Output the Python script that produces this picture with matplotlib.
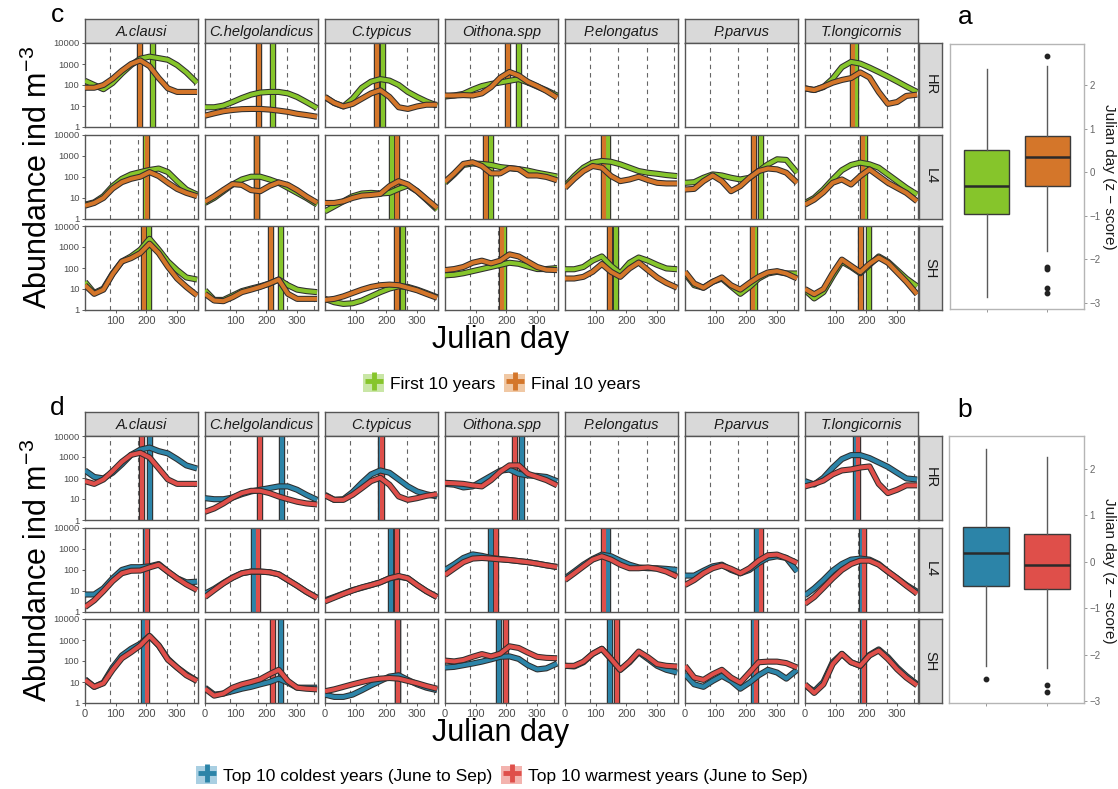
import numpy as np
import matplotlib
matplotlib.use("Agg")
import matplotlib.pyplot as plt
from matplotlib.lines import Line2D
from matplotlib.patches import Patch
from matplotlib.legend_handler import HandlerTuple

plt.rcParams['font.family'] = ['Liberation Sans', 'DejaVu Sans']
plt.rcParams['mathtext.fontset'] = 'custom'
plt.rcParams['mathtext.rm'] = 'Liberation Sans'

SPECIES = ['A.clausi', 'C.helgolandicus', 'C.typicus', 'Oithona.spp',
           'P.elongatus', 'P.parvus', 'T.longicornis']
STATIONS = ['HR', 'L4', 'SH']
DAYS = [0, 30, 60, 90, 120, 150, 180, 210, 240, 270, 300, 330, 365]
SEASONS = [80, 172, 266, 356]

# smoothed log10 abundance, one row per species (None = not sampled)
FIRST_HR = [
    [2.2, 2.0, 1.8, 2.1, 2.55, 2.95, 3.25, 3.35, 3.28, 3.2, 2.95, 2.6, 2.1],
    [0.94, 0.94, 1.02, 1.19, 1.38, 1.54, 1.64, 1.67, 1.67, 1.6, 1.43, 1.19, 0.9],
    [1.43, 1.14, 0.98, 1.35, 1.87, 2.16, 2.28, 2.21, 2.0, 1.67, 1.43, 1.22, 1.02],
    [1.45, 1.5, 1.58, 1.78, 1.95, 2.05, 2.12, 2.2, 2.28, 2.12, 1.93, 1.75, 1.5],
    None,
    None,
    [1.84, 1.76, 1.9, 2.3, 2.85, 3.1, 3.02, 2.83, 2.62, 2.4, 2.17, 1.93, 1.67],
]
FINAL_HR = [
    [1.87, 1.87, 2.0, 2.3, 2.68, 3.0, 3.17, 2.9, 2.33, 1.84, 1.67, 1.67, 1.67],
    [0.54, 0.65, 0.75, 0.81, 0.85, 0.86, 0.86, 0.83, 0.78, 0.72, 0.63, 0.57, 0.49],
    [1.43, 1.15, 0.98, 1.1, 1.35, 1.6, 1.75, 1.43, 0.94, 0.86, 0.98, 1.06, 1.06],
    [1.5, 1.5, 1.52, 1.5, 1.6, 1.9, 2.35, 2.62, 2.45, 2.15, 1.95, 1.72, 1.4],
    None,
    None,
    [1.84, 1.76, 1.92, 2.11, 2.24, 2.33, 2.6, 2.36, 1.67, 1.1, 1.19, 1.48, 1.54],
]
FIRST_L4 = [
    [0.66, 0.77, 1.06, 1.54, 1.89, 2.1, 2.21, 2.31, 2.38, 2.21, 1.78, 1.38, 1.14],
    [0.74, 0.98, 1.3, 1.62, 1.86, 1.99, 1.99, 1.86, 1.7, 1.46, 1.22, 0.98, 0.66],
    [0.34, 0.58, 0.82, 1.06, 1.19, 1.22, 1.19, 1.22, 1.41, 1.57, 1.3, 0.9, 0.42],
    [1.7, 2.1, 2.55, 2.62, 2.6, 2.55, 2.45, 2.4, 2.35, 2.28, 2.18, 2.1, 2.0],
    [1.54, 2.02, 2.42, 2.66, 2.74, 2.7, 2.58, 2.42, 2.26, 2.18, 2.13, 2.07, 2.02],
    [1.7, 1.73, 1.94, 2.1, 2.05, 1.94, 1.86, 1.94, 2.26, 2.58, 2.82, 2.79, 2.18],
    [0.74, 0.98, 1.38, 1.86, 2.3, 2.55, 2.66, 2.58, 2.42, 2.1, 1.78, 1.46, 1.14],
]
FINAL_L4 = [
    [0.61, 0.74, 0.98, 1.43, 1.73, 1.89, 1.99, 2.21, 2.02, 1.7, 1.41, 1.22, 1.06],
    [0.8, 1.06, 1.36, 1.64, 1.6, 1.35, 1.3, 1.55, 1.72, 1.6, 1.35, 1.05, 0.75],
    [0.74, 0.74, 0.82, 0.98, 1.09, 1.12, 1.17, 1.54, 1.78, 1.62, 1.3, 0.93, 0.5],
    [1.75, 2.15, 2.6, 2.68, 2.5, 2.15, 2.15, 2.4, 2.35, 2.05, 2.05, 1.98, 1.82],
    [1.46, 1.89, 2.26, 2.5, 2.42, 2.02, 1.78, 1.86, 1.99, 1.83, 1.7, 1.67, 1.67],
    [1.38, 1.41, 1.78, 2.05, 1.78, 1.3, 1.54, 1.94, 2.26, 2.38, 2.34, 2.18, 1.7],
    [0.66, 0.9, 1.25, 1.7, 1.86, 1.62, 2.02, 2.34, 2.02, 1.7, 1.46, 1.22, 0.82],
]
FIRST_SH = [
    [1.34, 0.81, 1.02, 1.74, 2.31, 2.55, 2.87, 3.39, 2.87, 2.31, 1.9, 1.55, 1.45],
    [0.94, 0.48, 0.48, 0.69, 0.9, 1.02, 1.13, 1.26, 1.45, 1.18, 0.97, 0.9, 0.85],
    [0.53, 0.37, 0.29, 0.32, 0.45, 0.65, 0.85, 1.02, 1.13, 1.1, 0.97, 0.81, 0.61],
    [1.65, 1.68, 1.75, 1.85, 1.95, 2.05, 2.15, 2.25, 2.2, 2.07, 1.95, 1.95, 2.0],
    [1.94, 1.94, 2.05, 2.35, 2.55, 2.1, 1.75, 2.25, 2.5, 2.35, 2.15, 1.98, 1.94],
    [1.74, 1.18, 1.06, 1.34, 1.5, 1.13, 0.77, 1.1, 1.5, 1.74, 1.82, 1.74, 1.74],
    [0.95, 0.55, 0.85, 1.6, 2.3, 2.05, 1.75, 2.15, 2.55, 2.3, 1.9, 1.5, 1.13],
]
FINAL_SH = [
    [1.18, 0.77, 0.97, 1.71, 2.31, 2.47, 2.71, 3.16, 2.71, 2.06, 1.5, 1.1, 0.69],
    [0.77, 0.45, 0.42, 0.61, 0.85, 0.97, 1.1, 1.26, 1.45, 0.77, 0.53, 0.53, 0.53],
    [0.48, 0.53, 0.65, 0.81, 0.97, 1.1, 1.18, 1.21, 1.18, 1.06, 0.94, 0.77, 0.58],
    [1.9, 1.95, 2.05, 2.25, 2.35, 2.22, 2.35, 2.65, 2.55, 2.3, 2.05, 1.92, 1.9],
    [1.5, 1.5, 1.58, 1.82, 2.19, 1.82, 1.58, 1.98, 2.26, 1.9, 1.55, 1.29, 1.06],
    [1.82, 1.26, 1.06, 1.34, 1.55, 1.18, 0.97, 1.29, 1.58, 1.79, 1.85, 1.74, 1.5],
    [1.0, 0.75, 1.0, 1.75, 2.4, 2.1, 1.8, 2.2, 2.5, 2.25, 1.8, 1.35, 0.75],
]

COLD_HR = [
    [2.36, 2.05, 1.98, 2.25, 2.65, 3.1, 3.35, 3.45, 3.28, 3.17, 2.9, 2.6, 2.45],
    [1.04, 0.99, 0.99, 1.07, 1.23, 1.36, 1.44, 1.52, 1.6, 1.6, 1.44, 1.2, 0.96],
    [1.2, 0.96, 0.99, 1.33, 1.77, 2.17, 2.36, 2.25, 1.93, 1.6, 1.36, 1.23, 1.12],
    [1.72, 1.68, 1.55, 1.6, 1.85, 2.1, 2.35, 2.4, 2.2, 2.12, 2.1, 2.05, 1.85],
    None,
    None,
    [1.85, 1.69, 2.01, 2.49, 2.9, 3.09, 3.09, 2.95, 2.74, 2.53, 2.25, 1.98, 1.93],
]
WARM_HR = [
    [1.85, 1.72, 1.93, 2.33, 2.77, 3.1, 3.2, 2.98, 2.46, 1.93, 1.72, 1.72, 1.72],
    [0.39, 0.55, 0.79, 1.07, 1.28, 1.39, 1.39, 1.28, 1.12, 0.99, 0.87, 0.79, 0.74],
    [1.17, 0.96, 0.96, 1.2, 1.52, 1.85, 2.01, 1.68, 1.12, 0.96, 1.04, 1.15, 1.23],
    [1.77, 1.75, 1.72, 1.65, 1.6, 1.9, 2.3, 2.6, 2.6, 2.2, 2.05, 1.9, 1.65],
    None,
    None,
    [1.6, 1.72, 1.88, 2.17, 2.36, 2.41, 2.5, 2.55, 1.72, 1.28, 1.44, 1.65, 1.65],
]
COLD_L4 = [
    [0.81, 0.81, 1.1, 1.58, 1.98, 2.11, 2.11, 2.15, 2.26, 1.9, 1.58, 1.39, 1.42],
    [0.85, 1.08, 1.36, 1.62, 1.82, 1.9, 1.9, 1.87, 1.77, 1.5, 1.23, 0.94, 0.65],
    [0.53, 0.69, 0.85, 1.02, 1.13, 1.26, 1.39, 1.58, 1.66, 1.58, 1.26, 0.97, 0.69],
    [1.98, 2.25, 2.55, 2.72, 2.65, 2.55, 2.5, 2.45, 2.4, 2.35, 2.28, 2.2, 2.12],
    [1.58, 1.9, 2.23, 2.5, 2.71, 2.63, 2.42, 2.23, 2.1, 2.06, 2.06, 2.03, 1.98],
    [1.71, 1.71, 1.94, 2.15, 2.23, 1.98, 1.82, 1.98, 2.31, 2.55, 2.63, 2.55, 1.9],
    [0.77, 1.1, 1.5, 1.94, 2.26, 2.47, 2.52, 2.47, 2.26, 1.9, 1.58, 1.26, 0.94],
]
WARM_L4 = [
    [0.21, 0.53, 0.97, 1.45, 1.82, 1.94, 1.95, 2.1, 2.23, 1.9, 1.58, 1.29, 1.02],
    [0.69, 1.02, 1.34, 1.61, 1.82, 1.9, 1.9, 1.87, 1.77, 1.5, 1.23, 0.94, 0.65],
    [0.48, 0.66, 0.84, 1.0, 1.15, 1.26, 1.39, 1.58, 1.69, 1.58, 1.26, 0.97, 0.69],
    [1.74, 2.05, 2.35, 2.52, 2.55, 2.52, 2.48, 2.45, 2.4, 2.35, 2.28, 2.2, 2.12],
    [1.5, 1.82, 2.15, 2.47, 2.63, 2.47, 2.23, 2.06, 2.06, 2.1, 2.03, 1.9, 1.66],
    [1.26, 1.5, 1.82, 2.06, 2.19, 2.03, 1.82, 2.06, 2.42, 2.68, 2.71, 2.55, 2.31],
    [0.37, 0.69, 1.13, 1.58, 1.98, 2.26, 2.42, 2.42, 2.23, 1.9, 1.58, 1.23, 0.85],
]
COLD_SH = [
    [1.13, 0.77, 0.97, 1.69, 2.26, 2.58, 2.82, 3.19, 2.74, 2.1, 1.69, 1.37, 1.05],
    [0.73, 0.4, 0.45, 0.56, 0.68, 0.77, 0.89, 1.0, 1.16, 0.97, 0.73, 0.73, 0.73],
    [0.4, 0.29, 0.29, 0.4, 0.61, 0.84, 1.05, 1.26, 1.32, 1.1, 0.89, 0.73, 0.61],
    [1.69, 1.72, 1.8, 1.88, 1.97, 2.08, 2.2, 2.22, 2.1, 1.8, 1.6, 1.65, 1.88],
    [1.77, 1.74, 1.94, 2.34, 2.58, 2.1, 1.58, 1.94, 2.42, 2.1, 1.77, 1.58, 1.45],
    [1.37, 0.89, 0.77, 1.05, 1.29, 1.05, 0.68, 0.97, 1.32, 1.58, 1.45, 1.16, 1.58],
    [0.84, 0.56, 1.0, 1.94, 2.34, 1.94, 1.77, 2.29, 2.55, 2.18, 1.69, 1.29, 0.89],
]
WARM_SH = [
    [1.1, 0.77, 0.94, 1.58, 2.13, 2.42, 2.74, 3.19, 2.74, 2.06, 1.69, 1.32, 1.05],
    [0.68, 0.35, 0.45, 0.73, 0.89, 1.0, 1.13, 1.37, 1.58, 1.05, 0.73, 0.68, 0.65],
    [0.56, 0.65, 0.77, 0.89, 1.0, 1.1, 1.16, 1.19, 1.16, 1.05, 0.94, 0.81, 0.68],
    [2.02, 1.98, 2.05, 2.2, 2.33, 2.22, 2.35, 2.7, 2.62, 2.4, 2.2, 2.15, 2.13],
    [1.77, 1.77, 1.97, 2.34, 2.58, 2.1, 1.58, 1.97, 2.45, 2.18, 1.85, 1.77, 1.74],
    [1.77, 1.21, 1.1, 1.37, 1.58, 1.21, 0.97, 1.45, 1.94, 1.97, 1.97, 1.9, 1.69],
    [0.89, 0.48, 0.89, 1.85, 2.34, 1.94, 1.77, 2.26, 2.5, 2.1, 1.61, 1.21, 0.84],
]

# day of peak abundance per species
PEAK_FIRST_HR = [221, 223, 188, 241, None, None, 166]
PEAK_FINAL_HR = [179, 176, 170, 206, None, None, 155]
PEAK_FIRST_L4 = [200, 168, 218, 149, 140, 246, 196]
PEAK_FINAL_L4 = [201, 168, 233, 133, 128, 225, 188]
PEAK_FIRST_SH = [208, 249, 255, 193, 167, 228, 210]
PEAK_FINAL_SH = [193, 215, 236, 187, 147, 221, 181]

PEAK_COLD_HR = [212, 251, 182, 250, None, None, 166]
PEAK_WARM_HR = [187, 180, 184, 228, None, None, 174]
PEAK_COLD_L4 = [200, 161, 214, 149, 139, 236, 185]
PEAK_WARM_L4 = [201, 174, 236, 166, 126, 246, 192]
PEAK_COLD_SH = [192, 247, 238, 176, 147, 225, 190]
PEAK_WARM_SH = [201, 223, 238, 199, 168, 230, 193]

# z-scored peak day summaries for the box plots
BOX_A = [dict(med=-0.32, q1=-0.96, q3=0.51, whislo=-2.86, whishi=2.37, fliers=[]),
         dict(med=0.35, q1=-0.32, q3=0.83, whislo=-1.81, whishi=2.44,
              fliers=[2.67, -2.17, -2.22, -2.65, -2.78])]
BOX_B = [dict(med=0.19, q1=-0.52, q3=0.75, whislo=-2.25, whishi=2.43, fliers=[-2.53]),
         dict(med=-0.06, q1=-0.59, q3=0.60, whislo=-2.28, whishi=2.26,
              fliers=[-2.66, -2.81])]

GREEN, ORANGE = '#86c52b', '#d4762a'
BLUE, RED = '#2c84a8', '#df4f4a'
PALE = {GREEN: '#c9e6a6', ORANGE: '#f0c8a4', BLUE: '#a9cfe2', RED: '#f3b3ae'}
DARK = '#2e2e2e'
BORDER = '#555555'

W, H = 1118, 789
fig = plt.figure(figsize=(W / 100, H / 100), dpi=100)


def px_axes(x, y, w, h):
    return fig.add_axes([x / W, 1 - (y + h) / H, w / W, h / H])


COL_X = [85 + 120 * i for i in range(7)]
PANEL_W = 113
PANEL_H = 84
ROW_OFF = [0, 91.5, 183]


def draw_grid(top, series_a, series_b, peaks_a, peaks_b, col_a, col_b, xticks):
    row_tops = [top + 24 + off for off in ROW_OFF]
    for j, name in enumerate(SPECIES):
        s = px_axes(COL_X[j], top, PANEL_W, 24)
        s.set_facecolor('#d9d9d9')
        s.set_xticks([]); s.set_yticks([])
        for sp in s.spines.values():
            sp.set_color(BORDER); sp.set_linewidth(1.0)
        s.text(0.5, 0.45, name, style='italic', fontsize=10.5, color='#1a1a1a',
               ha='center', va='center', transform=s.transAxes)
    for i, st in enumerate(STATIONS):
        s = px_axes(919, row_tops[i], 23, PANEL_H)
        s.set_facecolor('#d9d9d9')
        s.set_xticks([]); s.set_yticks([])
        for sp in s.spines.values():
            sp.set_color(BORDER); sp.set_linewidth(1.0)
        s.text(0.5, 0.5, st, rotation=-90, fontsize=10.5, color='#1a1a1a',
               ha='center', va='center', transform=s.transAxes)
        for j in range(7):
            ax = px_axes(COL_X[j], row_tops[i], PANEL_W, PANEL_H)
            for d in SEASONS:
                ax.axvline(d, color='#666666', lw=0.8, ls=(0, (4, 3.5)), zorder=1)
            a = series_a[i][j]
            b = series_b[i][j]
            if a is not None:
                for pk, col in ((peaks_a[i][j], col_a), (peaks_b[i][j], col_b)):
                    ax.axvline(pk, color=DARK, lw=4.6, zorder=2)
                    ax.axvline(pk, color=col, lw=3.0, zorder=2.1)
                for k, (vals, col) in enumerate(((a, col_a), (b, col_b))):
                    y = 10 ** np.array(vals)
                    ax.plot(DAYS, y, color=DARK, lw=4.4, solid_joinstyle='round',
                            solid_capstyle='butt', zorder=3 + k)
                    ax.plot(DAYS, y, color=col, lw=2.9, solid_joinstyle='round',
                            solid_capstyle='butt', zorder=3.5 + k)
            ax.set_yscale('log')
            ax.set_ylim(1, 10000)
            ax.set_xlim(0, 368)
            ax.minorticks_off()
            for sp in ax.spines.values():
                sp.set_color(BORDER); sp.set_linewidth(1.0)
            ax.tick_params(length=2.5, width=0.6, color='#444444', labelsize=6.8,
                           labelcolor='#4d4d4d', pad=1.5)
            if j == 0:
                ax.set_yticks([1, 10, 100, 1000, 10000])
                ax.set_yticklabels(['1', '10', '100', '1000', '10000'])
            else:
                ax.set_yticks([])
            if i == 2:
                ax.set_xticks(xticks)
                ax.set_xticklabels([str(t) for t in xticks], fontsize=8)
            else:
                ax.set_xticks([])


def draw_box(rect, stats, colors, ylim, label_xy):
    ax = px_axes(*rect)
    bp = ax.bxp(stats, positions=[1, 2], widths=0.75, patch_artist=True,
                showcaps=False,
                boxprops=dict(linewidth=1.0, edgecolor='#3a3a3a'),
                whiskerprops=dict(color='#5a5a5a', linewidth=1.0),
                medianprops=dict(color='#2a2a2a', linewidth=1.8),
                flierprops=dict(marker='o', markersize=3.2, markerfacecolor='#222222',
                                markeredgecolor='#222222'))
    for patch, c in zip(bp['boxes'], colors):
        patch.set_facecolor(c)
    ax.set_xlim(0.4, 2.6)
    ax.set_ylim(*ylim)
    ax.yaxis.tick_right()
    ax.set_yticks(range(-3, 3))
    ax.set_xticks([1, 2])
    ax.set_xticklabels([])
    ax.tick_params(length=2.5, width=0.6, color='#888888', labelsize=7,
                   labelcolor='#666666', pad=1.2)
    for sp in ax.spines.values():
        sp.set_color('#b5b5b5'); sp.set_linewidth(1.0)
    fig.text(label_xy[0] / W, 1 - label_xy[1] / H, 'Julian day (z \u2212 score)',
             rotation=-90, fontsize=11, ha='center', va='center', color='#1a1a1a')


draw_grid(19, (FIRST_HR, FIRST_L4, FIRST_SH), (FINAL_HR, FINAL_L4, FINAL_SH),
          (PEAK_FIRST_HR, PEAK_FIRST_L4, PEAK_FIRST_SH),
          (PEAK_FINAL_HR, PEAK_FINAL_L4, PEAK_FINAL_SH), GREEN, ORANGE, [100, 200, 300])
draw_grid(412, (COLD_HR, COLD_L4, COLD_SH), (WARM_HR, WARM_L4, WARM_SH),
          (PEAK_COLD_HR, PEAK_COLD_L4, PEAK_COLD_SH),
          (PEAK_WARM_HR, PEAK_WARM_L4, PEAK_WARM_SH), BLUE, RED, [0, 100, 200, 300])

draw_box((950, 44, 134, 265), BOX_A, [GREEN, ORANGE], (-3.14, 2.94), (1109, 177))
draw_box((949, 436, 135, 267), BOX_B, [BLUE, RED], (-3.04, 2.71), (1109, 571))

for txt, x, y in (('c', 57, 15), ('d', 57, 408), ('a', 965, 17), ('b', 965, 410)):
    fig.text(x / W, 1 - y / H, txt, fontsize=19, ha='center', va='center')

for yc in (177, 570):
    fig.text(38 / W, 1 - yc / H, 'Abundance ind m$\\mathregular{^{-3}}$', rotation=90,
             fontsize=22, ha='center', va='center')
for yc in (340, 733):
    fig.text(501 / W, 1 - yc / H, 'Julian day', fontsize=22, ha='center', va='center')


def legend_handles(col_a, col_b):
    hs = []
    for c in (col_a, col_b):
        hs.append((Patch(facecolor=PALE[c], edgecolor='none'),
                   Line2D([], [], color=c, marker='+', markersize=13,
                          markeredgewidth=3.5, linestyle='none')))
    return hs


for (ca, cb, la, lb, yc) in ((GREEN, ORANGE, 'First 10 years', 'Final 10 years', 383),
                             (BLUE, RED, 'Top 10 coldest years (June to Sep)',
                              'Top 10 warmest years (June to Sep)', 775)):
    fig.legend(legend_handles(ca, cb), [la, lb], loc='center',
               bbox_to_anchor=(502 / W, 1 - yc / H), ncol=2, frameon=False,
               fontsize=12.5, handlelength=1.2, handleheight=1.2,
               columnspacing=0.5, handletextpad=0.35,
               handler_map={tuple: HandlerTuple(ndivide=1, pad=0)})

fig.savefig('out.png', dpi=100)
